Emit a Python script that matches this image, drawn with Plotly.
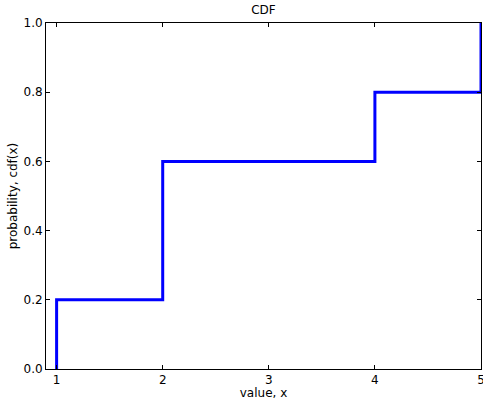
import plotly.graph_objects as go

# Step CDF data
x_values = [1, 1, 2, 4, 5]
cdf_values = [0.0, 0.2, 0.6, 0.8, 1.0]
x_ticks = [1, 2, 3, 4, 5]
y_ticks = [0.0, 0.2, 0.4, 0.6, 0.8, 1.0]
y_tick_labels = ["0.0", "0.2", "0.4", "0.6", "0.8", "1.0"]

font = dict(family="DejaVu Sans", size=12, color="black")

fig = go.Figure()
fig.add_trace(go.Scatter(
    x=x_values, y=cdf_values, mode="lines",
    line=dict(color="#0000ff", width=3, shape="hv"),
    cliponaxis=False, showlegend=False, hoverinfo="skip",
))

fig.update_layout(
    width=483, height=400,
    margin=dict(l=46, r=2, t=23, b=31),
    paper_bgcolor="white", plot_bgcolor="white",
    font=font,
    title=dict(text="CDF", x=0.5, xref="paper", y=1 - 10 / 400, yref="container",
               xanchor="center", yanchor="middle", font=dict(size=12)),
)
axis_common = dict(
    showline=True, linecolor="black", linewidth=1, mirror="ticks",
    ticks="inside", ticklen=4, tickwidth=1, tickcolor="black",
    showgrid=False, zeroline=False, ticklabeloverflow="allow",
    tickfont=font, automargin=False,
)
fig.update_xaxes(
    range=[0.9, 5.0], tickvals=x_ticks, ticktext=[str(v) for v in x_ticks],
    title=dict(text="value, x", standoff=3, font=font), **axis_common,
)
fig.update_yaxes(
    range=[0.0, 1.0], tickvals=y_ticks, ticktext=y_tick_labels,
    title=dict(text="probability, cdf(x)", standoff=3, font=font), **axis_common,
)

fig.write_html(
    "out.html",
    config={"displayModeBar": False},
    post_script="document.body.style.margin='0';document.body.style.padding='0';",
)
